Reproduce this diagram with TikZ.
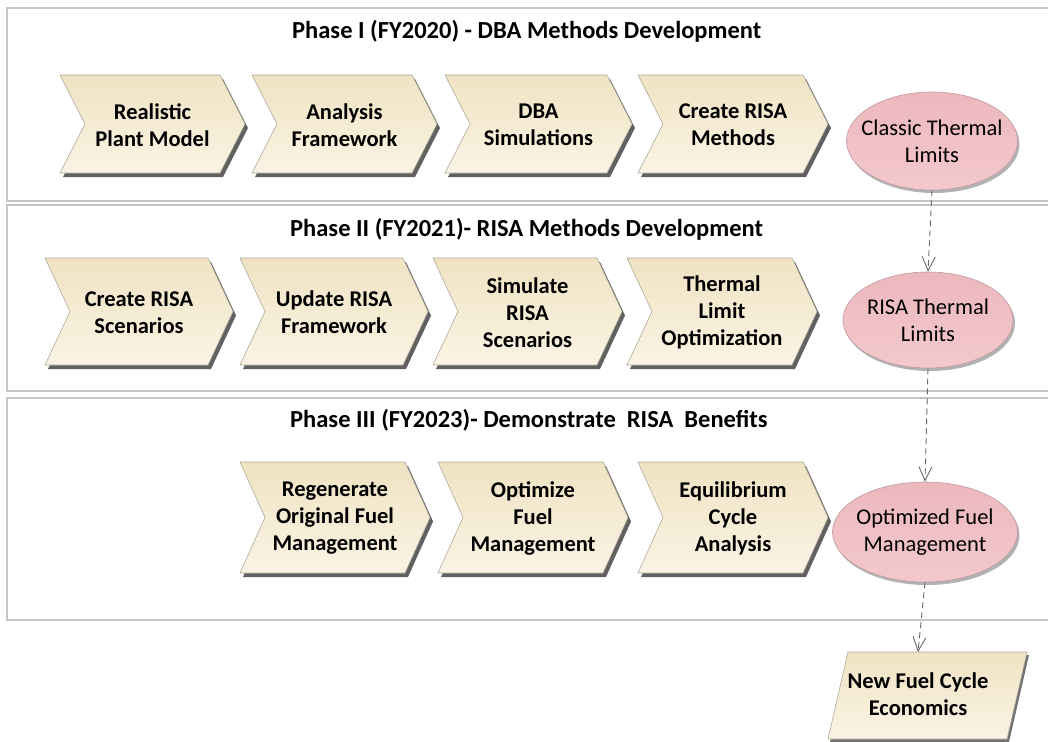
\documentclass[tikz,border=0pt]{standalone}
\usepackage{fontspec}
\setmainfont{Carlito}
\usetikzlibrary{arrows.meta,shapes.geometric,calc}

\definecolor{chevtop}{RGB}{240,227,195}
\definecolor{chevbot}{RGB}{250,244,228}
\definecolor{chevline}{RGB}{175,170,155}
\definecolor{ovalfill}{RGB}{243,200,204}
\definecolor{ovaltop}{RGB}{236,184,189}
\definecolor{ovalline}{RGB}{190,155,160}
\definecolor{framecol}{RGB}{198,198,198}
\definecolor{linkcol}{RGB}{105,105,105}

\tikzset{
  chevtext/.style={align=center,font=\fontsize{22.5}{27}\selectfont\bfseries,text=black,inner sep=0pt},
  chevbody/.style={top color=chevtop,bottom color=chevbot,draw=chevline,line width=0.6pt},
  chevshade/.style={fill=black!62},
  phasetitle/.style={font=\fontsize{24.5}{28}\selectfont\bfseries,anchor=west,inner sep=0pt},
  frameline/.style={draw=framecol,line width=1.3pt},
  oval/.style={ellipse,draw=ovalline,line width=0.6pt,top color=ovaltop,bottom color=ovalfill,inner sep=0pt},
  ovalshade/.style={ellipse,fill=black!30,draw=none,inner sep=0pt},
  ovaltext/.style={align=center,font=\fontsize{22.5}{27}\selectfont,inner sep=0pt},
  link/.style={draw=linkcol,line width=0.9pt,dash pattern=on 6pt off 4pt,
    -{Straight Barb[length=14pt,width=13pt,line width=0.9pt]}},
}

\def\chevdepth{25}
% chevron step: #1 name, #2 left x, #3 top y, #4 width, #5 height, #6 label
\newcommand\chevbox[6]{%
  \pgfmathsetmacro\cxl{#2}%
  \pgfmathsetmacro\cxr{#2+#4}%
  \pgfmathsetmacro\cxn{#2+\chevdepth}%
  \pgfmathsetmacro\cxs{#2+#4-\chevdepth}%
  \pgfmathsetmacro\cyt{#3}%
  \pgfmathsetmacro\cyb{#3+#5}%
  \pgfmathsetmacro\cym{#3+#5/2}%
  \pgfmathsetmacro\cxm{#2+#4/2}%
  \fill[chevshade] (\cxl+3,\cyt+4) -- (\cxs+3,\cyt+4) -- (\cxr+3,\cym+4)
     -- (\cxs+3,\cyb+4) -- (\cxl+3,\cyb+4) -- (\cxn+3,\cym+4) -- cycle;
  \path[chevbody] (\cxl,\cyt) -- (\cxs,\cyt) -- (\cxr,\cym)
     -- (\cxs,\cyb) -- (\cxl,\cyb) -- (\cxn,\cym) -- cycle;
  \node[chevtext] (#1) at (\cxm,\cym+1) {#6};
}

\begin{document}
\begin{tikzpicture}[x=1pt,y=-1pt]
  \useasboundingbox[fill=white] (0,0) rectangle (1048,741);

  % phase frames (open to the right edge)
  \draw[frameline] (1048,8) -- (7,8) -- (7,201) -- (1048,201);
  \draw[frameline] (1048,205) -- (7,205) -- (7,391) -- (1048,391);
  \draw[frameline] (1048,398) -- (7,398) -- (7,620) -- (1048,620);

  % phase titles
  \node[phasetitle] (t1) at (292,31) {Phase I (FY2020) - DBA Methods Development};
  \node[phasetitle] (t2) at (290,229) {Phase II (FY2021)- RISA Methods Development};
  \node[phasetitle] (t3) at (290,420) {Phase III (FY2023)- Demonstrate\ \ RISA\ \ Benefits};

  % Phase I steps
  \chevbox{p1a}{60}{75}{185}{98}{Realistic\\Plant Model}
  \chevbox{p1b}{252}{75}{185}{98}{Analysis\\Framework}
  \chevbox{p1c}{445}{75}{187}{98}{DBA\\Simulations}
  \chevbox{p1d}{638}{75}{190}{98}{Create RISA\\Methods}

  % Phase II steps
  \chevbox{p2a}{45}{258}{188}{107}{Create RISA\\Scenarios}
  \chevbox{p2b}{240}{258}{188}{107}{Update RISA\\Framework}
  \chevbox{p2c}{433}{258}{189}{107}{Simulate\\RISA\\Scenarios}
  \chevbox{p2d}{627}{258}{190}{107}{Thermal\\Limit\\Optimization}

  % Phase III steps
  \chevbox{p3a}{240}{462}{190}{111}{Regenerate\\Original Fuel\\Management}
  \chevbox{p3b}{438}{462}{190}{111}{Optimize\\Fuel\\Management}
  \chevbox{p3c}{638}{462}{190}{111}{Equilibrium\\Cycle\\Analysis}

  % results
  \node[ovalshade,minimum width=171pt,minimum height=98pt] at (934,144) {};
  \node[oval,minimum width=171pt,minimum height=98pt] (lim1) at (932,141) {};
  \node[ovaltext] (lim1t) at (lim1.center) {Classic Thermal\\Limits};

  \node[ovalshade,minimum width=170pt,minimum height=96pt] at (930,323) {};
  \node[oval,minimum width=170pt,minimum height=96pt] (lim2) at (928,320) {};
  \node[ovaltext] (lim2t) at (lim2.center) {RISA Thermal\\Limits};

  \node[ovalshade,minimum width=185pt,minimum height=100pt] at (927,535) {};
  \node[oval,minimum width=185pt,minimum height=100pt] (lim3) at (925,532) {};
  \node[ovaltext] (lim3t) at (lim3.center) {Optimized Fuel\\Management};

  % final output (parallelogram)
  \fill[black!55] (850,655) -- (1029,655) -- (1009,742) -- (830,742) -- cycle;
  \path[chevbody] (848,652) -- (1027,652) -- (1007,739) -- (828,739) -- cycle;
  \node[chevtext] (econ) at (918,694) {New Fuel Cycle\\Economics};
  \coordinate (econtop) at (918,652);

  % dependencies
  \draw[link] (lim1.south) -- (lim2.north);
  \draw[link] (lim2.south) -- (lim3.north);
  \draw[link] (lim3.south) -- (econtop);
\end{tikzpicture}
\end{document}
